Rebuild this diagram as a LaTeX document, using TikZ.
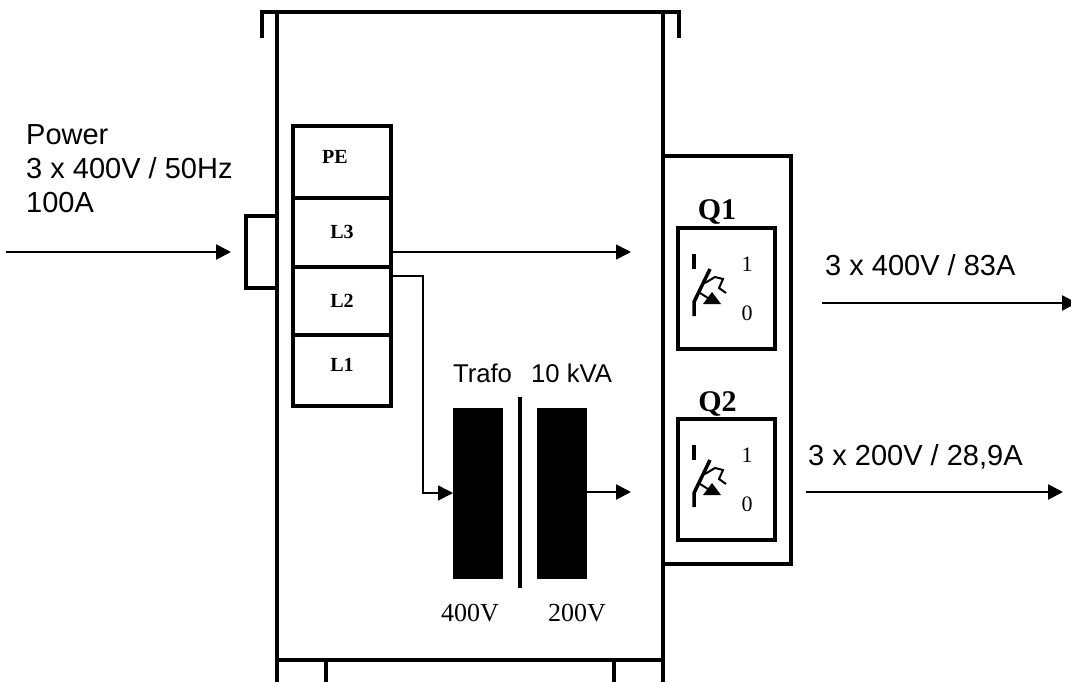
\documentclass[tikz,border=0pt]{standalone}
\usepackage{fontspec}
\setmainfont{Liberation Serif}
\setsansfont{Liberation Sans}
\usetikzlibrary{arrows.meta}
\tikzset{
  frame/.style={draw,line width=4.5pt,line cap=rect},
  box/.style={draw,line width=4.5pt,rectangle,inner sep=0pt,outer sep=0pt},
  core/.style={fill=black,rectangle,inner sep=0pt,outer sep=0pt,minimum width=50pt,minimum height=171pt},
  wire/.style={line width=1.6pt,-{Triangle[length=15pt,width=15pt]}},
  feed/.style={line width=2.4pt,-{Triangle[length=15pt,width=15pt]}},
  tag/.style={font=\bfseries\fontsize{20}{24}\selectfont,inner sep=0pt},
  serif/.style={font=\fontsize{26}{30}\selectfont,inner sep=0pt},
  arial/.style={font=\sffamily\fontsize{29}{34}\selectfont,inner sep=0pt,align=left,anchor=west},
  pics/switch/.style={code={
    \draw[line width=4.5pt] (16,26) -- (16,41);
    \draw[line width=3.5pt] (16,88) -- (16,74) -- (32,41);
    \draw[line width=2pt] (27,55) -- (37,49) -- (45,51) -- (41,60) -- (48,65);
    \draw[line width=2pt] (22,65) -- (30,70);
    \fill (25,76) -- (34,64) -- (43,76) -- cycle;
    \node[font=\fontsize{22}{24}\selectfont,inner sep=0pt] (#1one) at (69,36) {1};
    \node[font=\fontsize{22}{24}\selectfont,inner sep=0pt] (#1zero) at (69,85) {0};
  }}
}
\begin{document}
\begin{tikzpicture}[x=1pt,y=-1pt]
  \useasboundingbox (0,0) rectangle (1071,681);
  \clip (0,0) rectangle (1071,681);
  % cabinet
  \draw[frame] (262,36) -- (262,12) -- (679,12) -- (679,36);
  \draw[frame] (277,12) -- (277,681);
  \draw[frame] (663,12) -- (663,681);
  \draw[frame] (277,660) -- (663,660);
  \draw[frame] (326,660) -- (326,681);
  \draw[frame] (614,660) -- (614,681);
  \node[box,minimum width=31pt,minimum height=72pt] (inlet) at (261.5,252) {};
  \node[box,minimum width=128pt,minimum height=408pt] (outlet) at (727,360) {};
  % terminals
  \node[box,minimum width=98pt,minimum height=72pt] (PE) at (342,162) {};
  \node[box,minimum width=98pt,minimum height=69pt] (L3) at (342,232.5) {};
  \node[box,minimum width=98pt,minimum height=68pt] (L2) at (342,301) {};
  \node[box,minimum width=98pt,minimum height=71pt] (L1) at (342,370.5) {};
  \node[tag] (PEtext) at (335,157) {PE};
  \node[tag] (L3text) at (342,232) {L3};
  \node[tag] (L2text) at (342,301) {L2};
  \node[tag] (L1text) at (342,365) {L1};
  % transformer
  \node[core] (prim) at (478,493.5) {};
  \node[core] (sec) at (562,493.5) {};
  \draw[line width=4pt] (520,397) -- (520,588);
  \node[font=\sffamily\fontsize{25.7}{30}\selectfont,inner sep=0pt] (trafo) at (532.5,373) {Trafo\hspace{0.74em}10 kVA};
  \node[serif] (primV) at (470,613) {400V};
  \node[serif] (secV) at (577,613) {200V};
  % switches
  \node[box,minimum width=97pt,minimum height=121pt] (Q1) at (726.5,288.5) {};
  \node[box,minimum width=97pt,minimum height=121pt] (Q2) at (726.5,479.5) {};
  \pic at (678,228) {switch=a};
  \pic at (678,419) {switch=b};
  \node[font=\bfseries\fontsize{30}{36}\selectfont,inner sep=0pt] (Q1text) at (717,212) {Q1};
  \node[font=\bfseries\fontsize{30}{36}\selectfont,inner sep=0pt] (Q2text) at (717.5,404) {Q2};
  % feeds
  \coordinate (src) at (6,252);
  \coordinate (srcend) at (231,252);
  \coordinate (l3end) at (631,252);
  \coordinate (l2out) at (391,276);
  \coordinate (bend1) at (423,276);
  \coordinate (bend2) at (423,493);
  \coordinate (secend) at (631,492);
  \coordinate (q1start) at (822,303);
  \coordinate (q1end) at (1077,303);
  \coordinate (q2start) at (806,492);
  \coordinate (q2end) at (1063,492);
  \draw[feed] (src) -- (srcend);
  \draw[wire] (L3.east |- l3end) -- (l3end);
  \draw[wire] (l2out) -- (bend1) -- (bend2) -- (prim.west |- bend2);
  \draw[feed] (sec.east |- secend) -- (secend);
  \draw[feed] (q1start) -- (q1end);
  \draw[feed] (q2start) -- (q2end);
  % labels
  \node[arial] (power) at (26,169) {Power\\3 x 400V / 50Hz\\100A};
  \node[arial] (out1) at (825,265) {3 x 400V / 83A};
  \node[arial] (out2) at (808,457) {3 x 200V / 28,9A};
\end{tikzpicture}
\end{document}
